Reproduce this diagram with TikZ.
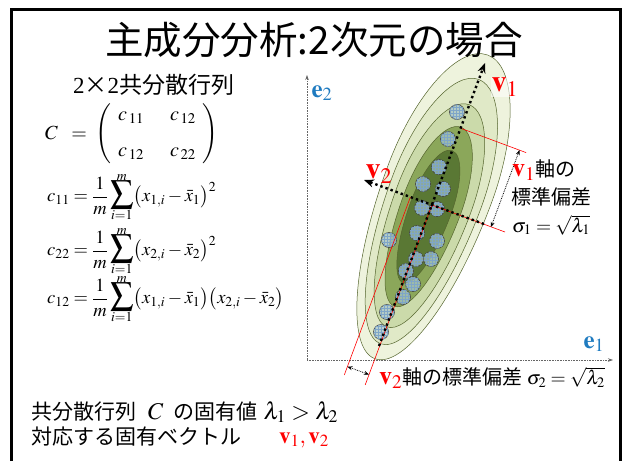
\documentclass[tikz,border=0pt]{standalone}
\usepackage{amsmath}
\usepackage{mathptmx}
\usepackage{fontspec}
\setmainfont{Liberation Serif}
\newfontfamily\jpfont{Noto Sans CJK JP}
\usetikzlibrary{arrows.meta,patterns}
\definecolor{cA}{HTML}{EEF3DD}
\definecolor{cB}{HTML}{E0E9C7}
\definecolor{cC}{HTML}{CBDAAA}
\definecolor{cD}{HTML}{8BA75A}
\definecolor{cE}{HTML}{5A7834}
\definecolor{olivedark}{HTML}{55652E}
\definecolor{vred}{HTML}{FF0000}
\definecolor{eblue}{HTML}{1F7BC0}
\definecolor{dotfill}{HTML}{A8C6D4}
\definecolor{dotgrid}{HTML}{7FA6C8}
\newcommand\eggshape[5]{%
  \filldraw[contour, fill=#5] (#1,#4)
    arc[start angle=90, end angle=-90, x radius=#2, y radius=#4]
    arc[start angle=-90, end angle=-270, x radius=#3, y radius=#4] -- cycle;}
\newcommand\msum[2]{\mathop{\vcenter{\offinterlineskip\halign{\hfil##\hfil\cr
  $\scriptstyle #2$\cr\noalign{\kern0.5pt}{\fontsize{23}{23}\selectfont$\displaystyle\sum$}\cr\noalign{\kern1pt}$\scriptstyle #1$\cr}}}}
\begin{document}
\begin{tikzpicture}[x=1pt,y=-1pt,
  contour/.style={draw=olivedark, line width=0.5pt},
  dot/.style={circle, minimum size=15pt, inner sep=0pt, draw=black!75, line width=0.6pt,
    fill=dotfill, fill opacity=0.65, postaction={pattern=grid, pattern color=dotgrid}},
  axisline/.style={densely dotted, black!60, line width=0.6pt, -{Stealth[length=5pt,width=3.5pt]}},
  vaxis/.style={line width=2.4pt, dash pattern=on 2.4pt off 3pt, -{Stealth[length=10pt,width=8pt]}},
  redline/.style={vred, line width=0.6pt},
  dimarrow/.style={densely dotted, line width=0.8pt, {Stealth[length=5pt,width=4pt]}-{Stealth[length=5pt,width=4pt]}},
  jp/.style={font=\jpfont\fontsize{20}{24}\selectfont, inner sep=0pt},
  mt/.style={font=\fontsize{18.5}{22}\selectfont, inner sep=0pt},
  vlab/.style={font=\fontsize{30}{34}\selectfont, text=vred, inner sep=1pt},
  elab/.style={font=\fontsize{25}{30}\selectfont, text=eblue, inner sep=0pt}]
\useasboundingbox (0,0) rectangle (624,461);
% contours
\begin{scope}[shift={(432,205)}, rotate=69.6, y=1pt]
  \eggshape{22}{138}{186}{55}{cA}
  \eggshape{13}{121}{161}{47}{cB}
  \eggshape{5}{102}{135}{39}{cC}
  \eggshape{0}{83}{108}{30}{cD}
  \eggshape{-3}{61}{80}{21}{cE}
\end{scope}
% data points
\node[dot] (p1) at (457,112) {};
\node[dot] (p2) at (448,139) {};
\node[dot] (p3) at (439,167) {};
\node[dot] (p4) at (423,184) {};
\node[dot] (p5) at (443,189) {};
\node[dot] (p6) at (422,208) {};
\node[dot] (p7) at (437,209) {};
\node[dot] (p8) at (417,233) {};
\node[dot] (p9) at (437,241) {};
\node[dot] (p10) at (389,240) {};
\node[dot] (p11) at (416,259) {};
\node[dot] (p12) at (431,259) {};
\node[dot] (p13) at (406,271) {};
\node[dot] (p14) at (413,284) {};
\node[dot] (p15) at (403,297) {};
\node[dot] (p16) at (387,312) {};
\node[dot] (p17) at (381,332) {};
% key points
\coordinate (O) at (432,205);
\coordinate (P) at (410.4,197);
\coordinate (Pa) at (344.3,375);
\coordinate (Bb) at (365.2,384.9);
\coordinate (Ce) at (505,232);
\coordinate (Q) at (460.5,128.2);
\coordinate (Qe) at (526.1,152.6);
\coordinate (s1a) at (491,227);
\coordinate (s1b) at (519.5,150.1);
\coordinate (s2a) at (347.4,366.6);
\coordinate (s2b) at (369,374.6);
\coordinate (v1s) at (379,346);
\coordinate (v1e) at (485,63);
\coordinate (v2s) at (484,224);
\coordinate (v2e) at (364,180);
\coordinate (org) at (307,360);
\coordinate (e2t) at (307,75);
\coordinate (e1t) at (613,360);
% axes
\draw[axisline] (org) -- (e2t);
\draw[axisline] (org) -- (e1t);
% red lines
\draw[redline] (P) -- (Pa);
\draw[redline] (O) -- (Bb);
\draw[redline] (O) -- (Ce);
\draw[redline] (Q) -- (Qe);
% eigen axes
\draw[vaxis] (v1s) -- (v1e);
\draw[vaxis] (v2s) -- (v2e);
% dimension arrows
\draw[dimarrow] (s1a) -- (s1b);
\draw[dimarrow] (s2a) -- (s2b);
% labels on plot
\node[vlab, fill=white, fill opacity=0.55, text opacity=1] (v1lab) at (505,87) {$\mathbf{v}_1$};
\node[vlab] (v2lab) at (379,174) {$\mathbf{v}_2$};
\node[elab] (e2lab) at (322,93) {$\mathbf{e}_2$};
\node[elab] (e1lab) at (594,344) {$\mathbf{e}_1$};
\node[jp, anchor=west] (ax1) at (512,170) {{\fontsize{26}{30}\selectfont\color{vred}$\mathbf{v}_1$}軸の};
\node[jp, anchor=west] (ax1b) at (511,197) {標準偏差};
\node[mt, font=\fontsize{19.5}{23}\selectfont, anchor=west] (sig1) at (512,225) {$\sigma_1=\sqrt{\lambda_1}$};
\node[jp, anchor=west] (ax2) at (379,378) {{\fontsize{26}{30}\selectfont\color{vred}$\mathbf{v}_2$}軸の標準偏差 {\fontsize{19.5}{23}\selectfont$\sigma_2=\sqrt{\lambda_2}$}};
% frame
\draw[line width=3pt] (11.5,461) -- (11.5,9) -- (620,9) -- (620,461);
% title
\node[font=\jpfont\fontsize{38.5}{46}\selectfont, inner sep=0pt] (title) at (314,40) {主成分分析:2次元の場合};
% left texts
\node[jp, font=\jpfont\fontsize{23}{27}\selectfont, anchor=west] (covt) at (73,85) {{\rmfamily 2}×{\rmfamily 2}共分散行列};
\node[mt, font=\fontsize{20}{24}\selectfont, anchor=west] (Cmat) at (45,134) {$C\;\;=\;\left(\begin{array}{@{\;\,}c@{\hspace{26pt}}c@{\;\,}} c_{\,11} & c_{\,12}\\[12pt] c_{\,12} & c_{\,22}\end{array}\right)$};
\node[mt, anchor=west] (eq11) at (47,197) {$\displaystyle c_{11}=\frac{1}{m}\msum{i=1}{m}\bigl(x_{1,i}-\bar{x}_1\bigr)^{2}$};
\node[mt, anchor=west] (eq22) at (47,251) {$\displaystyle c_{22}=\frac{1}{m}\msum{i=1}{m}\bigl(x_{2,i}-\bar{x}_2\bigr)^{2}$};
\node[mt, anchor=west] (eq12) at (47,299) {$\displaystyle c_{12}=\frac{1}{m}\msum{i=1}{m}\bigl(x_{1,i}-\bar{x}_1\bigr)\bigl(x_{2,i}-\bar{x}_2\bigr)$};
\node[jp, font=\jpfont\fontsize{21}{25}\selectfont, anchor=west] (eig) at (31,412) {共分散行列\hspace{12pt}{\fontsize{24}{27}\selectfont$C$}\hspace{10pt}の固有値\hspace{6pt}{\fontsize{24}{27}\selectfont$\lambda_1>\lambda_2$}};
\node[jp, font=\jpfont\fontsize{21}{25}\selectfont, anchor=west] (evec) at (31,437) {対応する固有ベクトル};
\node[font=\fontsize{23}{27}\selectfont, text=vred, inner sep=0pt] (vv) at (304,440) {$\mathbf{v}_1, \mathbf{v}_2$};
\end{tikzpicture}
\end{document}
